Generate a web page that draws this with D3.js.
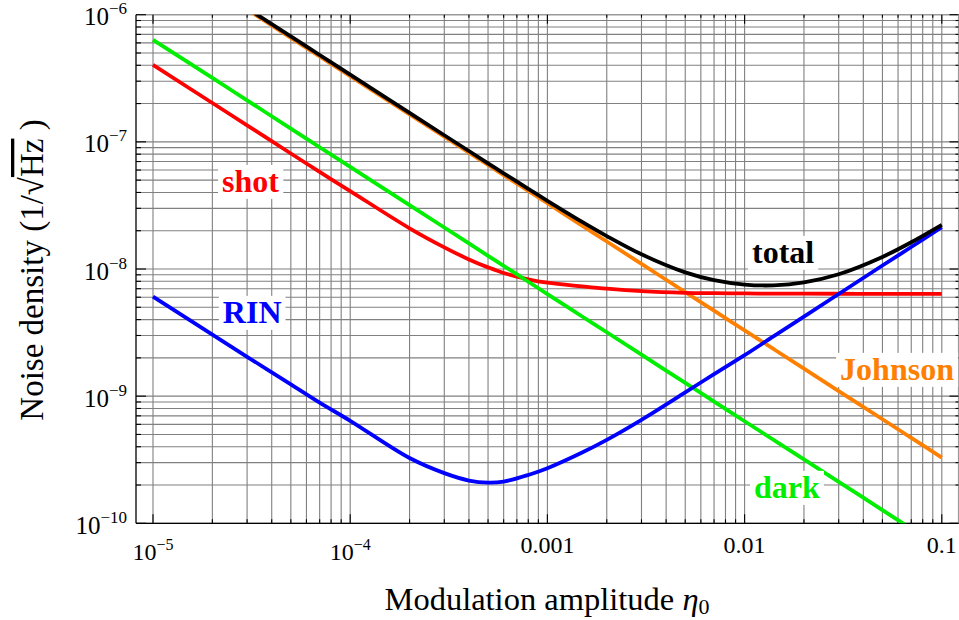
<!DOCTYPE html>
<html>
<head>
<meta charset="utf-8">
<script src="https://cdn.jsdelivr.net/npm/d3@7"></script>
<style>
  html, body { margin: 0; padding: 0; background: #fff; }
  svg { display: block; }
</style>
</head>
<body>
<svg id="chart" width="959" height="620"></svg>
<script>
// ---------------- data ----------------
const eta = [1e-5, 2e-5, 3e-5, 5e-5, 7e-5, 1e-4, 2e-4, 3e-4, 4e-4, 5e-4, 6e-4, 8e-4,
             1e-3, 1.5e-3, 2e-3, 3e-3, 5e-3, 7e-3, 1e-2, 1.4e-2, 2e-2, 3e-2, 5e-2, 7e-2, 1e-1];

const johnson = [3.29e-6, 1.645e-6, 1.097e-6, 6.58e-7, 4.70e-7, 3.29e-7, 1.645e-7, 1.097e-7, 8.23e-8, 6.58e-8, 5.48e-8, 4.11e-8,
                 3.29e-8, 2.19e-8, 1.645e-8, 1.097e-8, 6.58e-9, 4.70e-9, 3.29e-9, 2.35e-9, 1.645e-9, 1.097e-9, 6.58e-10, 4.70e-10, 3.29e-10];

const dark = [6.35e-7, 3.18e-7, 2.12e-7, 1.27e-7, 9.07e-8, 6.35e-8, 3.18e-8, 2.12e-8, 1.59e-8, 1.27e-8, 1.06e-8, 7.94e-9,
              6.35e-9, 4.23e-9, 3.18e-9, 2.12e-9, 1.27e-9, 9.07e-10, 6.35e-10, 4.54e-10, 3.18e-10, 2.12e-10, 1.27e-10, 9.07e-11, 6.35e-11];

const shot = [4.03e-7, 2.02e-7, 1.35e-7, 8.1e-8, 5.8e-8, 4.1e-8, 2.09e-8, 1.48e-8, 1.19e-8, 1.03e-8, 9.3e-9, 8.3e-9,
              7.8e-9, 7.3e-9, 7.0e-9, 6.7e-9, 6.5e-9, 6.45e-9, 6.42e-9, 6.40e-9, 6.40e-9, 6.39e-9, 6.38e-9, 6.38e-9, 6.38e-9];

const rin = [6.07e-9, 3.05e-9, 2.04e-9, 1.24e-9, 8.9e-10, 6.4e-10, 3.26e-10, 2.48e-10, 2.17e-10, 2.09e-10, 2.13e-10, 2.40e-10,
             2.71e-10, 3.6e-10, 4.53e-10, 6.51e-10, 1.07e-9, 1.49e-9, 2.1e-9, 2.95e-9, 4.22e-9, 6.36e-9, 1.065e-8, 1.49e-8, 2.13e-8];

const total = [3.375e-6, 1.688e-6, 1.125e-6, 6.75e-7, 4.82e-7, 3.376e-7, 1.688e-7, 1.127e-7, 8.47e-8, 6.78e-8, 5.66e-8, 4.27e-8,
               3.44e-8, 2.347e-8, 1.816e-8, 1.304e-8, 9.4e-9, 8.17e-9, 7.54e-9, 7.44e-9, 7.85e-9, 9.09e-9, 1.244e-8, 1.622e-8, 2.223e-8];

const seriesNames = ["Johnson", "shot", "dark", "RIN", "total"];
const labelNames  = ["shot", "RIN", "total", "Johnson", "dark"];
// label anchors in data space (left edge eta, baseline value)
const labelEta = [2.24e-5, 2.26e-5, 0.0109, 0.0305, 0.01116];
const labelVal = [4.04e-8, 3.77e-9, 1.117e-8, 1.343e-9, 1.585e-10];

const xTickValues = [1e-5, 1e-4, 1e-3, 1e-2, 1e-1];
const xTickBase   = ["10", "10", "0.001", "0.01", "0.1"];
const xTickSup    = ["\u22125", "\u22124", "", "", ""];
const yTickValues = [1e-6, 1e-7, 1e-8, 1e-9, 1e-10];
const yTickSup    = ["\u22126", "\u22127", "\u22128", "\u22129", "\u221210"];

// ---------------- layout / style ----------------
const FONT = "'Liberation Serif', 'Times New Roman', Tinos, 'DejaVu Serif', serif";
const colors = { Johnson: "#ff8000", shot: "#ff0000", dark: "#00ee00", RIN: "#0000ff", total: "#000000" };
const seriesData = { Johnson: johnson, shot: shot, dark: dark, RIN: rin, total: total };

const svg = d3.select("#chart").attr("font-family", FONT);
const x = d3.scaleLog().domain([1e-5, 0.1]).range([153, 941.8]);
const y = d3.scaleLog().domain([1e-10, 1e-6]).range([523.3, 14.7]);
const L = 136, R = 958.5, T = 14.7, B = 523.3;

// grid values
const xGrid = [], yGrid = [];
for (let e = -5; e <= -1; e++) for (let m = 1; m <= 9; m++) { const v = m * Math.pow(10, e); if (v <= 0.1000001) xGrid.push(v); }
for (let e = -10; e <= -6; e++) for (let m = 1; m <= 9; m++) { const v = m * Math.pow(10, e); if (v <= 1.000001e-6) yGrid.push(v); }

const grid = svg.append("g");
grid.selectAll("line.vx").data(xGrid).join("line")
  .attr("x1", d => x(d)).attr("x2", d => x(d)).attr("y1", T).attr("y2", B)
  .attr("stroke", "#808080").attr("stroke-width", 1.1);
grid.selectAll("line.hy").data(yGrid).join("line")
  .attr("x1", L).attr("x2", R).attr("y1", d => y(d)).attr("y2", d => y(d))
  .attr("stroke", "#808080").attr("stroke-width", 1.1);

// frame
svg.append("line").attr("x1", L).attr("x2", R).attr("y1", T).attr("y2", T).attr("stroke", "#999").attr("stroke-width", 1.2);
svg.append("line").attr("x1", R).attr("x2", R).attr("y1", T).attr("y2", B).attr("stroke", "#999").attr("stroke-width", 1.2);

// ticks (inside)
const ticks = svg.append("g").attr("stroke", "#000").attr("stroke-width", 1.1);
xGrid.forEach(v => {
  const major = xTickValues.some(t => Math.abs(t - v) / t < 1e-6);
  const lb = major ? 9 : 4, lt = major ? 9 : 3;
  ticks.append("line").attr("x1", x(v)).attr("x2", x(v)).attr("y1", B).attr("y2", B - lb);
  ticks.append("line").attr("x1", x(v)).attr("x2", x(v)).attr("y1", T).attr("y2", T + lt);
});
yGrid.forEach(v => {
  const major = yTickValues.some(t => Math.abs(t - v) / t < 1e-6);
  const ll = major ? 10 : 5, lr = major ? 9 : 3;
  ticks.append("line").attr("x1", L).attr("x2", L + ll).attr("y1", y(v)).attr("y2", y(v));
  ticks.append("line").attr("x1", R).attr("x2", R - lr).attr("y1", y(v)).attr("y2", y(v));
});

// left & bottom axis lines
svg.append("line").attr("x1", L).attr("x2", L).attr("y1", T).attr("y2", B).attr("stroke", "#000").attr("stroke-width", 1.3);
svg.append("line").attr("x1", L).attr("x2", R).attr("y1", B).attr("y2", B).attr("stroke", "#000").attr("stroke-width", 1.3);

// curves
svg.append("clipPath").attr("id", "plotclip").append("rect")
  .attr("x", L).attr("y", T).attr("width", R - L).attr("height", B - T);
const line = d3.line().x(d => x(d[0])).y(d => y(d[1])).curve(d3.curveCatmullRom.alpha(0.5));
const curves = svg.append("g").attr("clip-path", "url(#plotclip)");
seriesNames.forEach(name => {
  const vals = seriesData[name];
  curves.append("path")
    .attr("d", line(eta.map((e, i) => [e, vals[i]])))
    .attr("fill", "none").attr("stroke", colors[name]).attr("stroke-width", 3.8)
    .attr("stroke-linejoin", "round");
});

// series labels with white boxes
labelNames.forEach((name, i) => {
  const g = svg.append("g");
  const t = g.append("text")
    .attr("x", x(labelEta[i])).attr("y", y(labelVal[i]))
    .attr("font-size", 32).attr("font-weight", "bold").attr("font-family", FONT)
    .attr("fill", colors[name]).text(name);
  const bb = t.node().getBBox();
  g.insert("rect", "text").attr("x", bb.x - 4).attr("y", bb.y + 2).attr("width", bb.width + 8).attr("height", bb.height - 2)
    .attr("fill", "#fff");
});

// x tick labels
xTickValues.forEach((v, i) => {
  const t = svg.append("text").attr("x", x(v)).attr("y", xTickSup[i] ? 560 : 553).attr("text-anchor", "middle")
    .attr("font-size", 24).attr("font-family", FONT).attr("fill", "#000");
  t.append("tspan").text(xTickBase[i]);
  if (xTickSup[i]) t.append("tspan").attr("font-size", 16).attr("dy", -10).text(xTickSup[i]);
});

// y tick labels
yTickValues.forEach((v, i) => {
  const t = svg.append("text").attr("x", 127).attr("y", y(v) + 10.5).attr("text-anchor", "end")
    .attr("font-size", 25).attr("font-family", FONT).attr("fill", "#000");
  t.append("tspan").text("10");
  t.append("tspan").attr("font-size", 17).attr("dy", -11).text(yTickSup[i]);
});

// axis titles
const xt = svg.append("text").attr("x", 547).attr("y", 610).attr("text-anchor", "middle")
  .attr("font-size", 32.5).attr("font-family", FONT).attr("fill", "#000");
xt.append("tspan").text("Modulation amplitude ");
xt.append("tspan").attr("font-style", "italic").text("\u03b7");
xt.append("tspan").attr("font-size", 22).attr("dy", 4).text("0");

const yt = svg.append("text").attr("transform", "translate(43,270) rotate(-90)")
  .attr("text-anchor", "middle").attr("font-size", 33).attr("font-family", FONT).attr("fill", "#000");
yt.append("tspan").text("Noise density (1/\u221a");
yt.append("tspan").style("text-decoration", "overline").text("Hz");
yt.append("tspan").text(" )");
</script>
</body>
</html>
